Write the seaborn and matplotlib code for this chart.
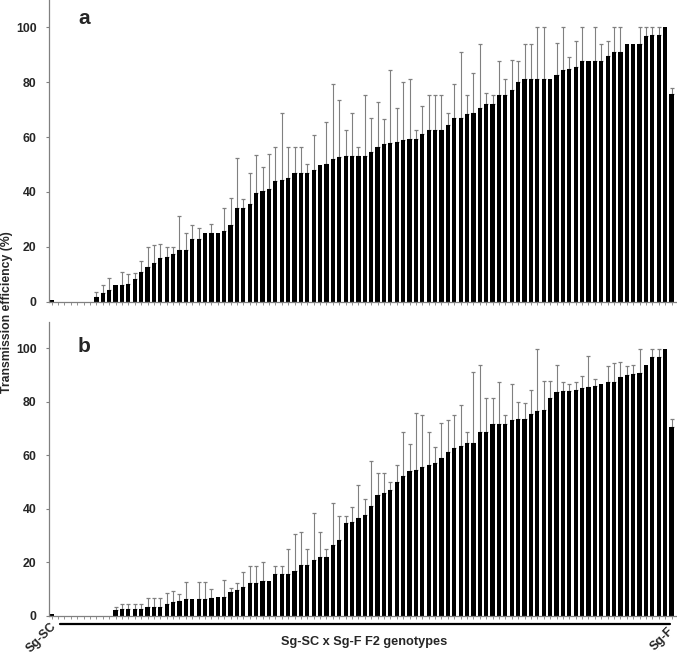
import numpy as np
import pandas as pd
import matplotlib
matplotlib.use("Agg")
import matplotlib.pyplot as plt
import seaborn as sns
from matplotlib.lines import Line2D

# F2 genotypes, ordered by transmission efficiency (panel a), 98 lines
mean_a = [0.6, 0, 0, 0, 0, 0, 0,
          1.8, 3.0, 4.3, 6.2, 6.2, 6.5, 8.2, 11, 12.5, 14, 16, 16.2, 17.5, 18.7, 18.7,
          22.7, 22.8, 25, 25, 25, 25.8, 28, 34, 34.2, 35.8, 39.6, 40.5, 41.2, 44, 44.5,
          45, 46.8, 46.8, 46.8, 48.2, 50, 50.3, 52, 52.8, 53.3, 53.3, 53.3, 53.3, 54.4,
          56.3, 57.4, 57.9, 58.3, 58.9, 59.4, 59.4, 61, 62.6, 62.6, 62.6, 64.5, 67, 67,
          68.3, 68.9, 70.5, 72, 72, 75.2, 75.2, 77.2, 80.1, 81.3, 81.3, 81.3, 81.3, 81.3,
          82.7, 84.5, 84.8, 85.6, 87.8, 87.8, 87.8, 87.8, 89.6, 90.9, 90.9, 94, 94, 94,
          96.8, 97.2, 97.2, 100, 75.7]
# top of error bar (nan = none drawn)
top_a = [np.nan] * 7 + [
          3.4, 6.1, 8.5, np.nan, 10.7, 10.1, 10.3, 15, 19.8, 20.6, 21.1, 20.1, 20, 31.2, 25.2,
          27.8, 27, np.nan, 28.4, np.nan, 34.1, 37.7, 52.3, 37.3, 46.8, 53.5, 49.1, 54, 56.3, 68.8,
          56.3, 56.3, 56.3, 50.2, 60.9, np.nan, 65.5, 79.5, 73.4, 62.6, 68.8, 56.3, 75.2, 67,
          72.9, 66.7, 84.4, 70.7, 80.1, 81.3, 62.6, 71.3, 75.2, 75.2, 75.2, 68.8, 79.4, 90.9,
          75.2, 83.5, 94, 76, 75.2, 87.7, 81.3, 88.2, 87.7, 94, 94, 100, 100, np.nan,
          94.5, 100, 89.3, 95, 100, np.nan, 100, 94, 95.1, 100, 100, np.nan, np.nan, 100,
          100, 100, 100, np.nan, 78]

mean_b = [0.75, 0, 0, 0, 0, 0, 0, 0, 0, 0,
          2, 2.4, 2.4, 2.4, 2.4, 3.4, 3.4, 3.4, 4.4, 5, 5.4, 6.4, 6.4, 6.4, 6.4, 6.6, 6.9,
          6.9, 8.75, 9.5, 10.9, 12.4, 12.4, 12.9, 13, 15.6, 15.6, 15.6, 16.9, 18.9, 18.9,
          20.9, 22, 22, 26.4, 28.5, 34.5, 35, 36.6, 37.5, 40.9, 45, 45.9, 46.9, 50.1, 52.4,
          54, 54.6, 55.5, 56.4, 57.25, 59.1, 61.4, 62.6, 63.6, 64.5, 64.75, 68.75, 68.75,
          71.9, 71.9, 71.9, 73.4, 73.5, 73.6, 75.6, 76.75, 77.1, 81.4, 83.75, 84.1, 84.1,
          84.5, 85.1, 85.6, 86, 86.6, 87.5, 87.6, 89.25, 90, 90.4, 90.9, 93.9, 96.9, 96.9,
          99.9, 70.6]
top_b = [np.nan] * 10 + [
          3.25, 4.25, 4.25, 4.25, 4.25, 6.5, 6.5, 6.5, 8.6, 9.4, 8.1, 12.5, np.nan, 12.5, 12.5,
          9.9, np.nan, 13.5, 10.5, 12.4, 16.25, 18.75, 18.75, 20, np.nan, 18.75, 18.75, 25,
          30.5, 31.25, 25, 38.6, 31.25, 25, 42.1, 37.4, 37.4, 40.75, 49, 43.6, 57.75, 53.25,
          53.25, 50, 56.25, 68.75, 64.25, 76, 75.25, 68.75, 63.25, 72, 73.25, 75, 78.75,
          68.75, 91.25, 93.9, 81.4, 81.4, 87.6, 75, 86.6, 80.1, 79.75, 84.6, 99.9, 87.75,
          87.75, 93.9, 87.6, 86.6, 87.6, 89.5, 97.1, 88.4, np.nan, 93.4, 94.4, 95, 93.4,
          93.9, 99.9, np.nan, 99.9, 99.9, np.nan, 73.5]

sns.set_style("ticks")
plt.rcParams['font.family'] = ['Liberation Sans', 'DejaVu Sans']
plt.rcParams['font.weight'] = 'bold'

W, H = 677, 654
fig = plt.figure(figsize=(W / 100, H / 100), dpi=100)
grey = '#808080'


def panel(rect, mean, top, letter, letter_y):
    ax = fig.add_axes(rect)
    n = len(mean)
    df = pd.DataFrame({'g': np.arange(n), 'v': mean, 'top': top})
    sns.barplot(data=df, x='g', y='v', color='black', saturation=1, width=0.66,
                linewidth=0, ax=ax, zorder=2)
    e = df.dropna(subset=['top'])
    ax.errorbar(e['g'], e['v'], yerr=[np.zeros(len(e)), e['top'] - e['v']], fmt='none',
                ecolor=grey, elinewidth=0.8, capsize=1.7, capthick=0.9, zorder=1)
    ax.set_xlim(-0.42, n - 0.3)
    ax.set_ylim(0, 110)
    ax.set_yticks(range(0, 101, 20))
    ax.set_xticks(range(n))
    ax.set_xticklabels([''] * n)
    ax.set_xlabel('')
    ax.set_ylabel('')
    for s in ['top', 'right']:
        ax.spines[s].set_visible(False)
    for s in ['left', 'bottom']:
        ax.spines[s].set_color(grey)
        ax.spines[s].set_linewidth(0.9)
    ax.tick_params(axis='y', length=2.5, width=0.8, color=grey, pad=6.5,
                   labelsize=8.8)
    ax.tick_params(axis='x', length=2, width=0.6, color=grey)
    for t in ax.get_yticklabels():
        t.set_fontweight('bold')
    ax.patch.set_alpha(0)
    fig.text(84 / W, 1 - letter_y / H, letter, fontsize=15, fontweight='bold',
             ha='center', va='baseline')
    return ax


ax_a = panel([49 / W, 1 - 301.7 / H, 627 / W, 301.7 / H], mean_a, top_a, 'a', 24)
ax_b = panel([49 / W, 1 - 615.7 / H, 627 / W, 294 / H], mean_b, top_b, 'b', 352)

fig.text(7 / W, 1 - 312 / H, 'Transmission efficiency (%)', rotation=90,
         ha='center', va='center', fontsize=8.8, fontweight='bold')
fig.text(364 / W, 1 - 642 / H, 'Sg-SC x Sg-F F2 genotypes', ha='center',
         va='center', fontsize=9.2, fontweight='bold')
fig.text(41 / W, 1 - 638 / H, 'Sg-SC', rotation=45, ha='center', va='center',
         fontsize=8.8, fontweight='bold')
fig.text(662 / W, 1 - 639 / H, 'Sg-F', rotation=45, ha='center', va='center',
         fontsize=8.8, fontweight='bold')
fig.add_artist(Line2D([60 / W, 670 / W], [1 - 624.3 / H, 1 - 624.3 / H],
                      color='black', lw=1.6, transform=fig.transFigure))

fig.savefig('out.png', dpi=100)
